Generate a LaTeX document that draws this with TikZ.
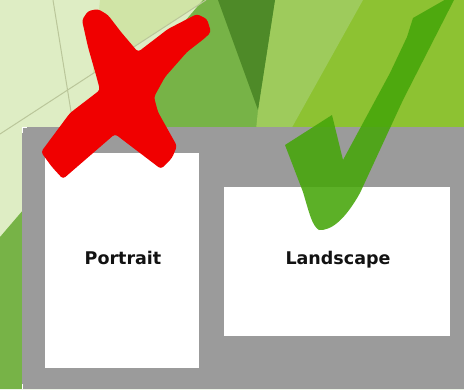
\documentclass[tikz,border=0pt]{standalone}
\usepackage{fontspec}
\newfontfamily\labelfont{DejaVu Sans}
\definecolor{vpale}{RGB}{222,237,196}
\definecolor{pale}{RGB}{208,228,166}
\definecolor{thinline}{RGB}{186,198,154}
\definecolor{midgreen}{RGB}{119,179,71}
\definecolor{darkgreen}{RGB}{78,138,40}
\definecolor{lightgreen}{RGB}{158,203,92}
\definecolor{ygreen}{RGB}{141,194,50}
\definecolor{panelgray}{RGB}{155,155,155}
\definecolor{xred}{RGB}{240,0,0}
\definecolor{chk}{RGB}{70,166,10}
\tikzset{
  page/.style={fill=white, draw=none, inner sep=0pt, anchor=north west},
  lbl/.style={font=\labelfont\bfseries\fontsize{17.5}{20}\selectfont, text=black!93},
}
\begin{document}
\begin{tikzpicture}[x=1pt,y=-1pt]
\useasboundingbox (0,0) rectangle (464,389);
\clip (0,0) rectangle (464,389);
% background
\fill[vpale] (0,0) rectangle (464,389);
\fill[pale] (100,0) -- (206,0) -- (93,73) -- cycle;
\fill[midgreen] (203,0) -- (464,0) -- (464,389) -- (0,389) -- (0,237) -- cycle;
\fill[ygreen] (362,0) -- (464,0) -- (464,140) -- (285,140) -- cycle;
\fill[lightgreen] (275,0) -- (363,0) -- (285,140) -- (255,140) -- (258,110) -- cycle;
\fill[darkgreen] (218,0) -- (275,0) -- (258,110) -- cycle;
\draw[thinline, line width=1pt] (53,0) -- (74,130);
\draw[thinline, line width=1pt] (206,0) -- (0,134);
% panel
\fill[panelgray] (22,127) rectangle (464,389);
\draw[white, line width=1pt] (22.5,133) -- (22.5,127.5) -- (27,127.5);
\draw[white, line width=1pt] (22.5,384) -- (22.5,389);
% pages
\node[page, minimum width=154pt, minimum height=215pt] (portrait) at (45,153) {};
\node[page, minimum width=226pt, minimum height=149pt] (landscape) at (224,187) {};
\node[lbl] (ptext) at (123,258) {Portrait};
\node[lbl] (ltext) at (338,260) {Landscape};
% red cross
\fill[xred, rounded corners=3pt] (82,20) -- (88,11) -- (98,9) -- (108,15) -- (121,32) -- (138,52)
  -- (168,29) -- (197,14) -- (207,19) -- (211,32) -- (205,38) -- (187,52) -- (165,77) -- (154,97)
  -- (158,112) -- (177,146) -- (172,158) -- (161,169) -- (115,134) -- (63,179) -- (52,167) -- (41,152)
  -- (70,113) -- (100,90) -- (96,75) -- (88,47) -- cycle;
% green check
\fill[chk, opacity=.88] (413,18) -- (448,-2) -- (455,-2) -- (403,100) -- (360,193)
  .. controls (346,218) and (332,231) .. (319,230)
  .. controls (312,226) and (309,212) .. (303,192)
  -- (285,145) -- (332,115) -- (343,160) -- (390,73) -- (407,37) -- cycle;
\end{tikzpicture}
\end{document}
